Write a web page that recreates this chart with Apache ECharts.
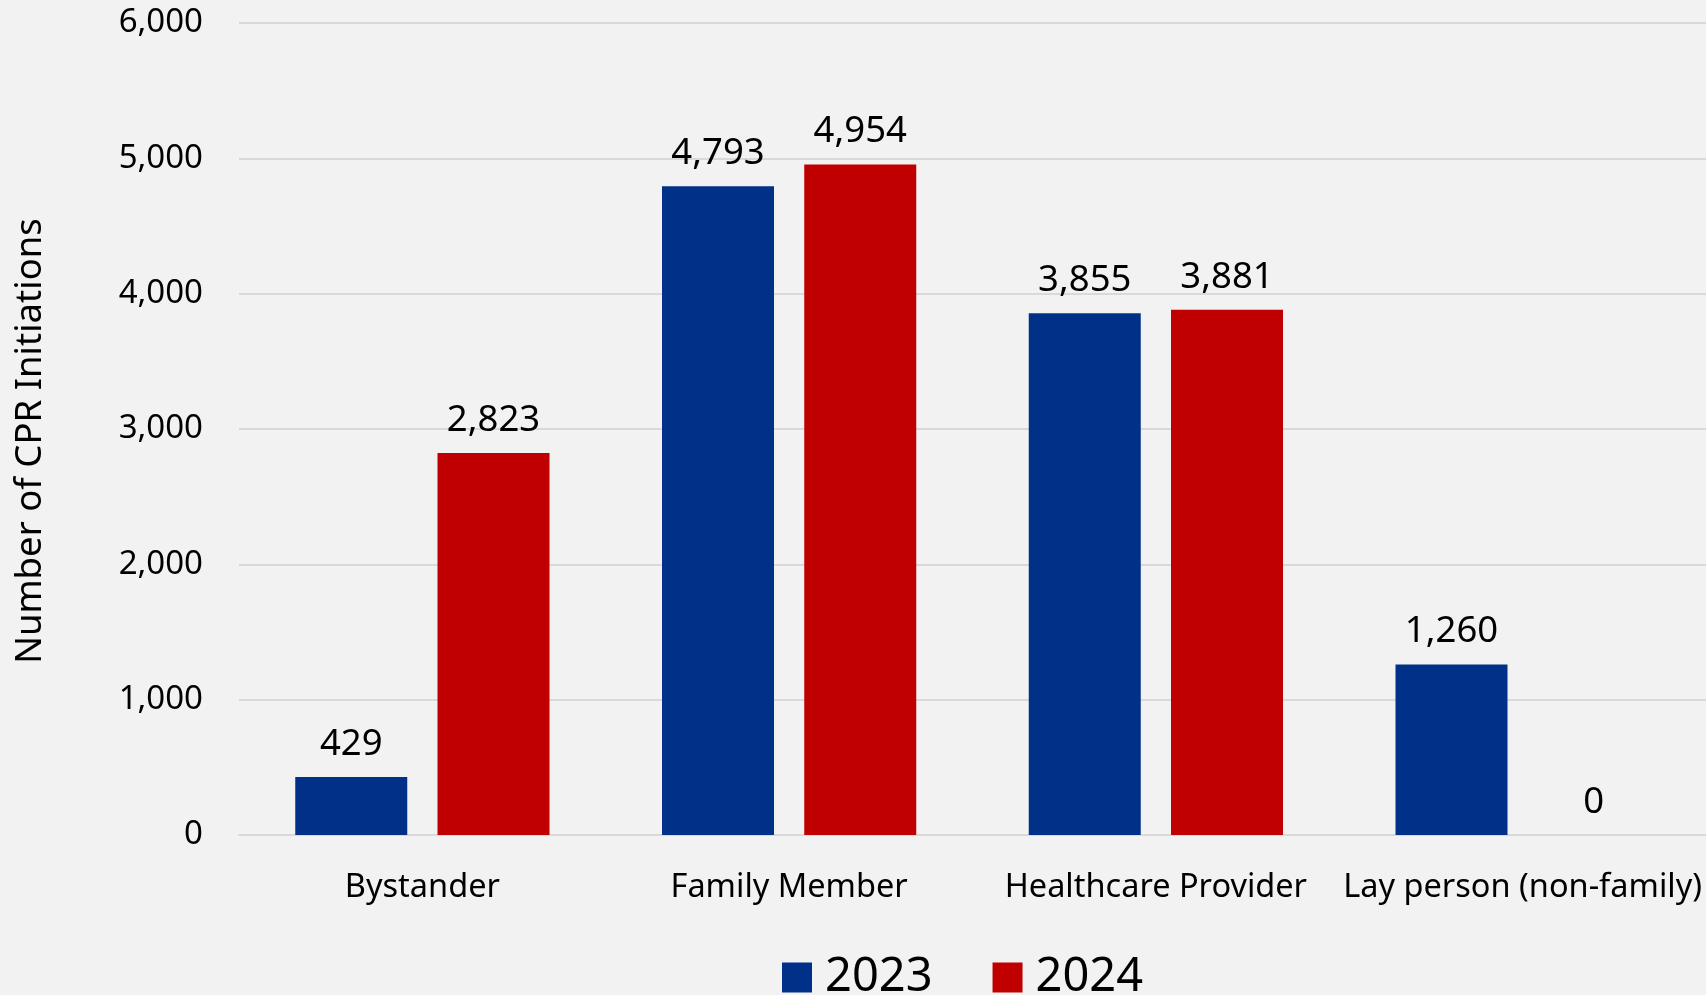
<!DOCTYPE html>
<html>
<head>
<meta charset="utf-8">
<script src="https://cdn.jsdelivr.net/npm/echarts@6/dist/echarts.min.js"></script>
<style>
  html, body { margin: 0; padding: 0; background: #f2f2f2; }
  #chart { width: 1706px; height: 995px; }
</style>
</head>
<body>
<div id="chart"></div>
<script>
const categories = ['Bystander', 'Family Member', 'Healthcare Provider', 'Lay person (non-family)'];
const values2023 = [429, 4793, 3855, 1260];
const values2024 = [2823, 4954, 3881, 0];
const seriesNames = ['2023', '2024'];
const yTicks = { min: 0, max: 6000, interval: 1000 };
const yTitle = 'Number of CPR Initiations';

const FONT = 'Noto Sans';
const fmt = v => String(v).replace(/\B(?=(\d{3})+(?!\d))/g, ',');

const chart = echarts.init(document.getElementById('chart'), null, { renderer: 'canvas' });
const labelCfg = {
  show: true, position: 'top', distance: 14,
  color: '#000', fontFamily: FONT, fontSize: 36.5,
  formatter: p => fmt(p.value)
};
chart.setOption({
  backgroundColor: '#f2f2f2',
  animation: false,
  textStyle: { fontFamily: FONT },
  grid: { left: 239, right: 0, top: 23, bottom: 160, containLabel: false, outerBoundsMode: 'none' },
  legend: {
    data: seriesNames,
    left: 777, top: 949,
    icon: 'rect', itemWidth: 30, itemHeight: 30, itemGap: 60,
    textStyle: { fontFamily: FONT, fontSize: 47, color: '#000', padding: [0, 0, 0, 8] }
  },
  xAxis: {
    type: 'category', data: categories,
    axisLine: { show: true, lineStyle: { color: '#d9d9d9', width: 2 } },
    axisTick: { show: false },
    axisLabel: { interval: 0, color: '#000', fontFamily: FONT, fontSize: 32.5, margin: 36 }
  },
  yAxis: {
    type: 'value', min: yTicks.min, max: yTicks.max, interval: yTicks.interval,
    name: yTitle, nameLocation: 'middle', nameGap: 190, nameRotate: 90,
    nameTextStyle: { color: '#000', fontFamily: FONT, fontSize: 36.5, padding: [0, 24, 0, 0] },
    axisLine: { show: false }, axisTick: { show: false },
    splitLine: { lineStyle: { color: '#d9d9d9', width: 2 } },
    axisLabel: { color: '#000', fontFamily: FONT, fontSize: 33, margin: 36, formatter: v => fmt(v) }
  },
  series: [
    { name: seriesNames[0], type: 'bar', data: values2023, barWidth: 112, barGap: '27%',
      itemStyle: { color: '#003087' }, label: labelCfg },
    { name: seriesNames[1], type: 'bar', data: values2024, barWidth: 112, barGap: '27%',
      itemStyle: { color: '#c00000' }, label: labelCfg }
  ]
});
</script>
</body>
</html>
